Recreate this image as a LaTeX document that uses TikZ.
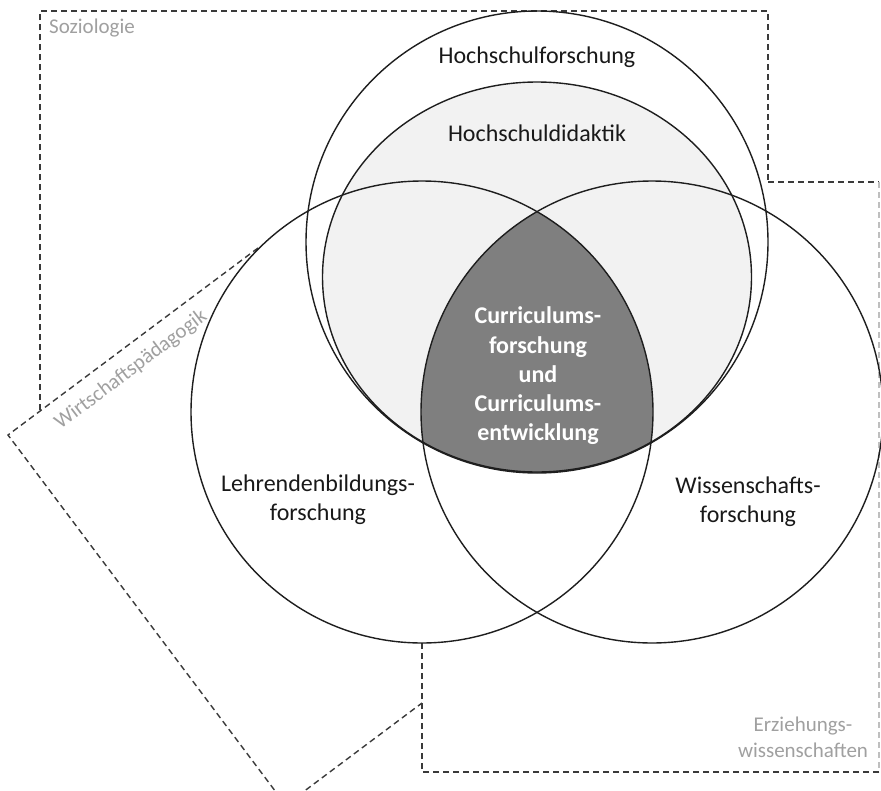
\documentclass[tikz,border=0pt]{standalone}
\usepackage{fontspec}
\setmainfont{Carlito}
\definecolor{lightfill}{HTML}{F2F2F2}
\definecolor{darkfill}{HTML}{7F7F7F}
\definecolor{labelgray}{HTML}{A0A0A0}
\definecolor{linecol}{HTML}{1E1E1E}
\definecolor{dashcol}{HTML}{3A3A3A}
\tikzset{
  ring/.style={draw=linecol, line width=1.4pt},
  boxline/.style={draw=dashcol, line width=1.4pt, dash pattern=on 6pt off 4pt, line join=miter},
  mainlabel/.style={font=\fontsize{24}{29.3}\selectfont, text=black!90, align=center, inner sep=0pt},
  centerlabel/.style={font=\fontsize{24}{29.3}\selectfont\bfseries, text=white, align=center, inner sep=0pt},
  sidelabel/.style={font=\fontsize{21}{25.6}\selectfont, text=labelgray, align=center, inner sep=0pt}
}
\begin{document}
\begin{tikzpicture}[x=1pt,y=-1pt]
\useasboundingbox (0,0) rectangle (881,790);
\clip (0,0) rectangle (881,790);
\fill[white] (0,0) rectangle (881,790);

% centres
\coordinate (cT) at (537,242);
\coordinate (cI) at (537,277);
\coordinate (cL) at (422,412);
\coordinate (cR) at (652,412);

% dashed discipline boxes
\coordinate (s1) at (40,410);
\coordinate (s2) at (40,11);
\coordinate (s3) at (768,11);
\coordinate (s4) at (768,182);
\draw[boxline] (s1) -- (s2) -- (s3) -- (s4);

\coordinate (e1) at (879,182);
\coordinate (e2) at (879,772);
\coordinate (e3) at (422,772);
\coordinate (e4) at (422,643);
\draw[boxline] (s4) -- (e1);
\draw[boxline, draw=black!25] (e1) -- (e2);
\draw[boxline] (e2) -- (e3) -- (e4);

\coordinate (w1) at (258,248);
\coordinate (w2) at (8,435);
\coordinate (w3) at (285.7,805);
\coordinate (w4) at (422,703);
\draw[boxline] (w1) -- (w2) -- (w3) -- (w4);

% fills
\begin{scope}
  \clip (cT) circle[radius=231pt];
  \fill[lightfill] (cI) ellipse[x radius=214.5pt, y radius=195pt];
\end{scope}
\begin{scope}
  \clip (cL) circle[radius=231pt];
  \clip (cR) circle[radius=231pt];
  \fill[darkfill] (cT) circle[radius=231pt];
\end{scope}

% outlines
\draw[ring] (cT) circle[radius=231pt];
\draw[ring] (cI) ellipse[x radius=214.5pt, y radius=195pt];
\draw[ring] (cL) circle[radius=231pt];
\draw[ring] (cR) circle[radius=231pt];

% labels
\node[mainlabel, anchor=base] (hf) at (537,63) {Hochschulforschung};
\node[mainlabel, anchor=base] (hd) at (537,141) {Hochschuldidaktik};
\node[mainlabel] (lb) at (318,500) {Lehrendenbildungs-\\forschung};
\node[mainlabel] (wf) at (748,502) {Wissenschafts-\\forschung};
\node[centerlabel] (cu) at (538,376) {Curriculums-\\forschung\\und\\Curriculums-\\entwicklung};

\node[sidelabel, anchor=base west] (so) at (49,33) {Soziologie};
\node[sidelabel] (ez) at (803,737) {Erziehungs-\\wissenschaften};
\node[sidelabel, rotate=37] (wp) at (131,370) {Wirtschaftspädagogik};
\end{tikzpicture}
\end{document}
